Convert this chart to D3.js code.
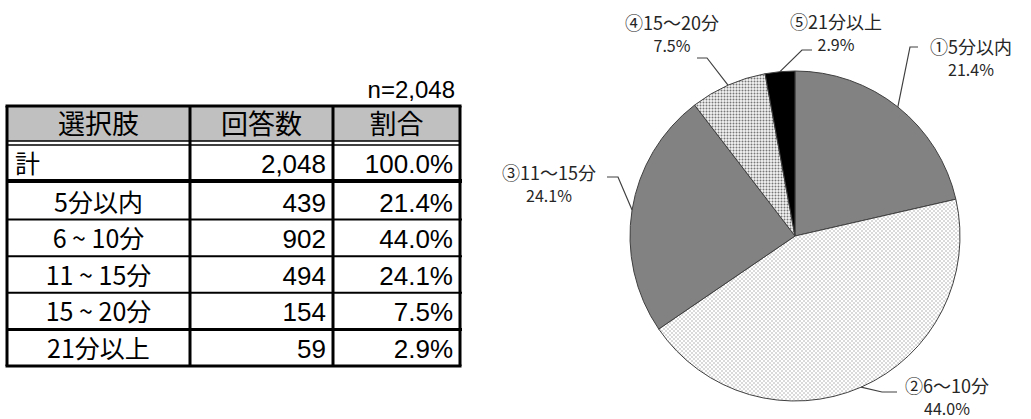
<!DOCTYPE html>
<html>
<head>
<meta charset="utf-8">
<script src="https://cdn.jsdelivr.net/npm/d3@7"></script>
<style>
  body { margin: 0; background: #fff; }
  svg { display: block; }
</style>
</head>
<body>
<svg id="chart" width="1031" height="419"></svg>
<script>
// ---- data ----
var headers = ["選択肢", "回答数", "割合"];
var categories = ["5分以内", "6 ~ 10分", "11 ~ 15分", "15 ~ 20分", "21分以上"];
var pieLabels = ["①5分以内", "②6〜10分", "③11〜15分", "④15〜20分", "⑤21分以上"];
var counts = [439, 902, 494, 154, 59];
var shares = [21.4, 44.0, 24.1, 7.5, 2.9];
var totalCount = 2048;
var totalShare = 100.0;

var svg = d3.select("#chart");
var fmtInt = d3.format(",");
var fmtPct = function(v) { return v.toFixed(1) + "%"; };

// ---- table ----
var colX = [7, 190, 333, 460];
var headTop = 106, headBottom = 141, totBottom = 181;
var rowY = d3.scaleLinear().domain([0, categories.length]).range([183, 366]);
var tFont = "'Noto Sans CJK JP', sans-serif";
var nFont = "'Liberation Sans', Arial, sans-serif";

var table = svg.append("g");

table.append("text")
  .attr("x", colX[3] - 5).attr("y", 98)
  .attr("text-anchor", "end")
  .style("font-family", nFont).style("font-size", "24px")
  .text("n=" + fmtInt(totalCount));

table.append("rect")
  .attr("x", colX[0]).attr("y", headTop)
  .attr("width", colX[3] - colX[0]).attr("height", headBottom - headTop)
  .attr("fill", "#c0c0c0");

table.selectAll("text.head")
  .data(headers)
  .join("text")
  .attr("class", "head")
  .attr("x", function(d, i) { return (colX[i] + colX[i + 1]) / 2; })
  .attr("y", headBottom - 7)
  .attr("text-anchor", "middle")
  .style("font-family", tFont).style("font-size", "27px")
  .text(function(d) { return d; });

// total row
table.append("text")
  .attr("x", colX[0] + 8).attr("y", totBottom - 8)
  .style("font-family", tFont).style("font-size", "25px")
  .text("計");
table.append("text")
  .attr("x", colX[2] - 7).attr("y", totBottom - 8)
  .attr("text-anchor", "end")
  .style("font-family", nFont).style("font-size", "26px")
  .text(fmtInt(totalCount));
table.append("text")
  .attr("x", colX[3] - 7).attr("y", totBottom - 8)
  .attr("text-anchor", "end")
  .style("font-family", nFont).style("font-size", "26px")
  .text(fmtPct(totalShare));

// data rows
var rows = table.selectAll("g.row")
  .data(categories)
  .join("g")
  .attr("class", "row")
  .attr("transform", function(d, i) { return "translate(0," + rowY(i + 1) + ")"; });

rows.append("text")
  .attr("x", (colX[0] + colX[1]) / 2).attr("y", -8)
  .attr("text-anchor", "middle")
  .style("font-family", tFont).style("font-size", "25px")
  .text(function(d) { return d; });
rows.append("text")
  .attr("x", colX[2] - 7).attr("y", -8)
  .attr("text-anchor", "end")
  .style("font-family", nFont).style("font-size", "26px")
  .text(function(d, i) { return fmtInt(counts[i]); });
rows.append("text")
  .attr("x", colX[3] - 7).attr("y", -8)
  .attr("text-anchor", "end")
  .style("font-family", nFont).style("font-size", "26px")
  .text(function(d, i) { return fmtPct(shares[i]); });

// grid lines
table.selectAll("line.sep")
  .data(d3.range(1, categories.length))
  .join("line")
  .attr("class", "sep")
  .attr("x1", colX[0]).attr("x2", colX[3] + 2)
  .attr("y1", function(i) { return rowY(i); })
  .attr("y2", function(i) { return rowY(i); })
  .attr("stroke", "#000")
  .attr("stroke-width", function(i) { return i === categories.length - 1 ? 3 : 2; });

[headBottom, headBottom + 4].forEach(function(y) {
  table.append("line")
    .attr("x1", colX[0]).attr("x2", colX[3])
    .attr("y1", y).attr("y2", y)
    .attr("stroke", "#000").attr("stroke-width", 1.5);
});
table.append("line")
  .attr("x1", colX[0]).attr("x2", colX[3] + 2)
  .attr("y1", totBottom).attr("y2", totBottom)
  .attr("stroke", "#000").attr("stroke-width", 4);

table.selectAll("line.col")
  .data(colX)
  .join("line")
  .attr("class", "col")
  .attr("x1", function(d) { return d; }).attr("x2", function(d) { return d; })
  .attr("y1", headTop).attr("y2", rowY(categories.length))
  .attr("stroke", "#000").attr("stroke-width", 3);

table.append("line")
  .attr("x1", colX[0] - 1.5).attr("x2", colX[3] + 1.5)
  .attr("y1", headTop).attr("y2", headTop)
  .attr("stroke", "#000").attr("stroke-width", 3);
table.append("line")
  .attr("x1", colX[0] - 1.5).attr("x2", colX[3] + 1.5)
  .attr("y1", rowY(categories.length)).attr("y2", rowY(categories.length))
  .attr("stroke", "#000").attr("stroke-width", 3);

// ---- pie ----
var defs = svg.append("defs");
var p2 = defs.append("pattern").attr("id", "dotLight")
  .attr("patternUnits", "userSpaceOnUse").attr("width", 4).attr("height", 4);
p2.append("rect").attr("width", 4).attr("height", 4).attr("fill", "#fff");
p2.append("circle").attr("cx", 1).attr("cy", 1).attr("r", 0.7).attr("fill", "#9a9a9a");
p2.append("circle").attr("cx", 3).attr("cy", 3).attr("r", 0.7).attr("fill", "#9a9a9a");

var p4 = defs.append("pattern").attr("id", "dotDense")
  .attr("patternUnits", "userSpaceOnUse").attr("width", 3).attr("height", 3);
p4.append("rect").attr("width", 3).attr("height", 3).attr("fill", "#f4f4f4");
p4.append("circle").attr("cx", 1.5).attr("cy", 1.5).attr("r", 1).attr("fill", "#777");

var fills = ["#828282", "url(#dotLight)", "#828282", "url(#dotDense)", "#000"];

var cx = 795, cy = 236, radius = 165;
var pie = d3.pie().sort(null).value(function(d) { return d; });
var arc = d3.arc().innerRadius(0).outerRadius(radius);
var edge = d3.arc().innerRadius(radius).outerRadius(radius);
var arcs = pie(shares);

var pg = svg.append("g").attr("transform", "translate(" + cx + "," + cy + ")");
pg.selectAll("path.slice")
  .data(arcs)
  .join("path")
  .attr("class", "slice")
  .attr("d", arc)
  .attr("fill", function(d, i) { return fills[i]; })
  .attr("stroke", "#404040")
  .attr("stroke-width", 1);

// leader elbow / stub end and text placement, page coords
var labelLayout = [
  { elbow: [910, 47], stub: [918, 47], tx: 971, y1: 46, y2: 69 },
  { elbow: [882, 392], stub: [897, 392], tx: 947, y1: 385, y2: 408 },
  { elbow: [618, 177], stub: [607, 177], tx: 549, y1: 172, y2: 195 },
  { elbow: [707, 58], stub: [697, 58], tx: 672, y1: 22, y2: 45 },
  { elbow: [802, 50], stub: [812, 50], tx: 836, y1: 21, y2: 44 }
];

var lg = svg.append("g");
lg.selectAll("path.leader")
  .data(arcs)
  .join("path")
  .attr("class", "leader")
  .attr("d", function(d, i) {
    var c = edge.centroid(d);
    var L = labelLayout[i];
    return d3.line()([[cx + c[0], cy + c[1]], L.elbow, L.stub]);
  })
  .attr("fill", "none")
  .attr("stroke", "#404040")
  .attr("stroke-width", 1.2);

var lbl = lg.selectAll("g.lbl")
  .data(arcs)
  .join("g")
  .attr("class", "lbl")
  .style("font-family", tFont)
  .attr("fill", "#262626");
lbl.append("text")
  .attr("x", function(d, i) { return labelLayout[i].tx; })
  .attr("y", function(d, i) { return labelLayout[i].y1; })
  .attr("text-anchor", "middle")
  .attr("dominant-baseline", "central")
  .style("font-size", "18px")
  .text(function(d, i) { return pieLabels[i]; });
lbl.append("text")
  .attr("x", function(d, i) { return labelLayout[i].tx; })
  .attr("y", function(d, i) { return labelLayout[i].y2; })
  .attr("text-anchor", "middle")
  .attr("dominant-baseline", "central")
  .style("font-size", "16px")
  .text(function(d) { return fmtPct(d.data); });
</script>
</body>
</html>
